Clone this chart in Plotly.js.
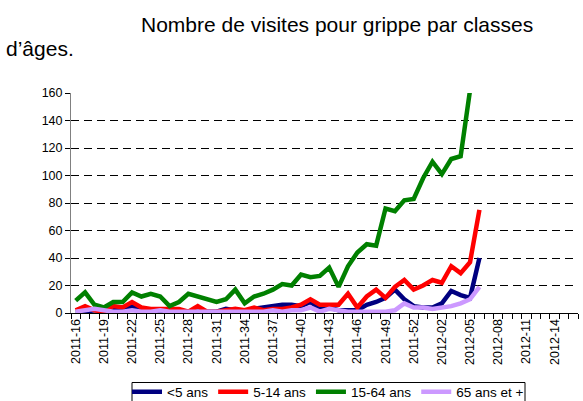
<!DOCTYPE html>
<html>
<head>
<meta charset="utf-8">
<script src="https://cdn.plot.ly/plotly-3.0.1.min.js"></script>
<style>
html,body{margin:0;padding:0;background:#fff;}
#chart{width:583px;height:401px;}
</style>
</head>
<body>
<div id="chart"></div>
<script>
const weeks = [
  "2011-16","2011-17","2011-18","2011-19","2011-20","2011-21","2011-22","2011-23","2011-24","2011-25",
  "2011-26","2011-27","2011-28","2011-29","2011-30","2011-31","2011-32","2011-33","2011-34","2011-35",
  "2011-36","2011-37","2011-38","2011-39","2011-40","2011-41","2011-42","2011-43","2011-44","2011-45",
  "2011-46","2011-47","2011-48","2011-49","2011-50","2011-51","2011-52","2012-00","2012-01","2012-02",
  "2012-03","2012-04","2012-05","2012-06","2012-07","2012-08","2012-09","2012-10","2012-11","2012-12",
  "2012-13","2012-14","2012-15","2012-16"
];
const under5   = [1,1,2,2,3,2,5,2,1,2, 1,1,1,1,1,1,3,2,1,3, 4,5,6,6,5,8,3,4,2,2, 2,6,8,11,17,10,5,4,4,7, 16,13,11,40];
const age5to14 = [2,5,2,1,5,4,8,4,3,3, 3,3,1,5,1,1,2,3,2,4, 2,3,3,4,6,10,6,6,6,14, 4,12,17,11,19,24,17,20,24,22, 34,29,37,75];
const age15to64= [9,15,6,4,8,8,15,12,14,12, 5,8,14,12,10,8,10,17,7,12, 14,17,21,20,28,26,27,33,19,34, 44,50,49,76,74,82,83,98,110,101, 112,114,162];
const age65plus= [1,2,3,2,1,1,2,1,1,2, 1,1,1,1,1,1,1,1,1,1, 1,2,1,2,2,4,1,3,2,1, 1,1,1,1,2,7,4,4,3,4, 5,7,10,19];
const seriesNames = ["<5 ans","5-14 ans","15-64 ans","65 ans et +"];
const seriesColors = ["#000080","#ff0000","#008000","#cc99ff"];
const yTicks = [0,20,40,60,80,100,120,140,160];
const titleLine1 = "Nombre de visites pour grippe par classes";
const titleLine2 = "d\u2019\u00e2ges.";

const FONT = "Liberation Sans, Arial, sans-serif";
const seriesData = [under5, age5to14, age15to64, age65plus];
const traces = seriesData.map((vals, k) => ({
  type: "scatter",
  mode: "lines",
  name: seriesNames[k],
  x: weeks.slice(0, vals.length),
  y: vals,
  line: {color: seriesColors[k], width: 4.5},
  hoverinfo: "skip"
}));

const tickText = weeks.map((w, i) => (i % 3 === 0 ? w : ""));

const L = 71, R = 578, T = 92.7, B = 313.3;
const px = x => (x - L) / (R - L);
const py = y => (B - y) / (B - T);

const layout = {
  width: 583, height: 401,
  margin: {l: L, r: 583 - R, t: T, b: 401 - B, pad: 0, autoexpand: false},
  paper_bgcolor: "#fff", plot_bgcolor: "#fff",
  font: {family: FONT, color: "#000"},
  showlegend: true,
  xaxis: {
    type: "category",
    categoryorder: "array",
    categoryarray: weeks,
    range: [-0.5, weeks.length - 0.5],
    tickmode: "array",
    tickvals: weeks,
    ticktext: tickText,
    tickangle: -90,
    tickson: "boundaries",
    ticks: "outside", ticklen: 5, tickcolor: "#000", tickwidth: 1,
    showline: true, linecolor: "#000", linewidth: 1,
    showgrid: false, zeroline: false,
    tickfont: {family: FONT, size: 12.5, color: "#000"},
    automargin: false, fixedrange: true
  },
  yaxis: {
    range: [0, 160],
    tickmode: "array",
    tickvals: yTicks,
    ticks: "outside", ticklen: 5, tickcolor: "#000", tickwidth: 1,
    showline: true, linecolor: "#808080", linewidth: 1,
    showgrid: true, gridcolor: "#000", gridwidth: 1, griddash: "8px,5px",
    zeroline: false,
    tickfont: {family: FONT, size: 12.5, color: "#000"},
    automargin: false, fixedrange: true
  },
  legend: {
    orientation: "h",
    x: px(127), y: py(377),
    xanchor: "left", yanchor: "top",
    borderwidth: 0,
    bgcolor: "rgba(0,0,0,0)",
    font: {family: FONT, size: 13.5, color: "#000"},
    itemwidth: 30,
    tracegroupgap: 0
  },
  shapes: [
    {type: "rect", xref: "paper", yref: "paper",
     x0: px(132), x1: px(525), y0: py(383), y1: py(408),
     line: {color: "#000", width: 1}, fillcolor: "rgba(0,0,0,0)", layer: "above"}
  ],
  annotations: [
    {text: titleLine1, xref: "paper", yref: "paper", x: px(337), y: py(23.6),
     xanchor: "center", yanchor: "middle", showarrow: false,
     font: {family: FONT, size: 21, color: "#000"}},
    {text: titleLine2, xref: "paper", yref: "paper", x: px(4), y: py(47.6),
     xanchor: "left", yanchor: "middle", showarrow: false,
     font: {family: FONT, size: 21, color: "#000"}}
  ]
};

Plotly.newPlot("chart", traces, layout, {staticPlot: true, displayModeBar: false});
</script>
</body>
</html>
